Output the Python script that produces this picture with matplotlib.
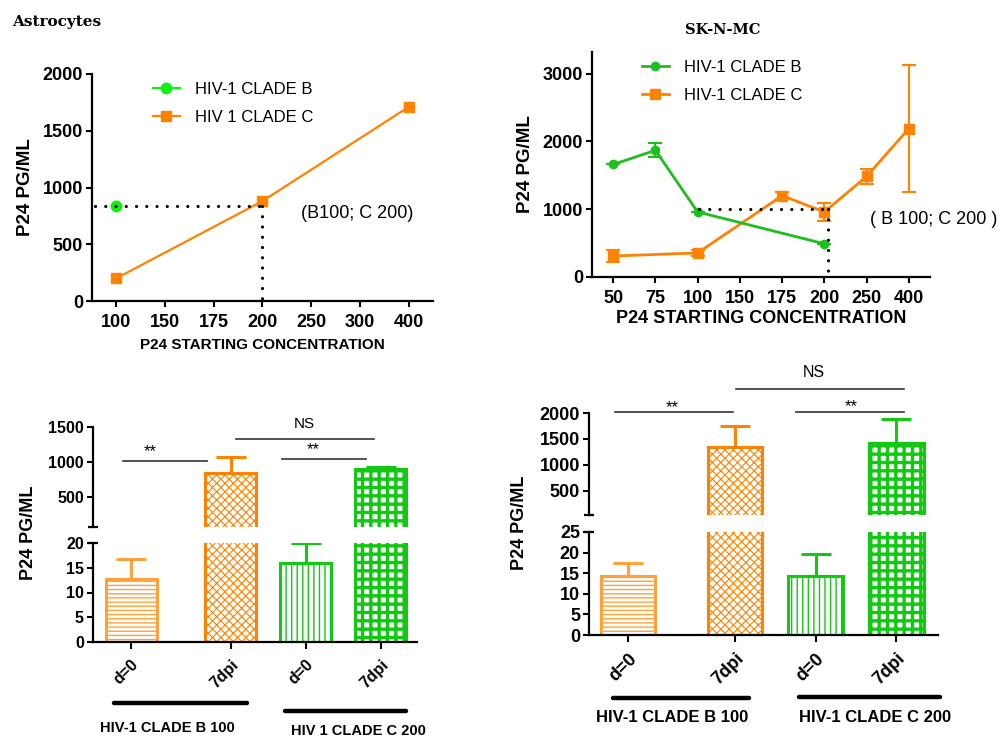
import matplotlib
matplotlib.use('Agg')
import matplotlib.pyplot as plt
from matplotlib.lines import Line2D

plt.rcParams['font.family'] = ['Liberation Sans', 'DejaVu Sans']

W, H = 1003, 737
ORANGE = '#FF8200'
LORANGE = '#FFA23C'
GREEN_A = '#14EE14'
GREEN = '#1DBF1D'
GREEN_BAR = '#12C812'

# ---- top left: astrocytes, titration
a_conc = ['100', '150', '175', '200', '250', '300', '400']
a_b_x = ['100']
a_b_y = [840]
a_c_x = ['100', '200', '400']
a_c_y = [200, 880, 1710]

# ---- top right: SK-N-MC, titration
b_conc = ['50', '75', '100', '150', '175', '200', '250', '400']
b_b_x = ['50', '75', '100', '200']
b_b_y = [1660, 1870, 960, 490]
b_b_err = [0, 100, 0, 0]
b_c_x = ['50', '100', '175', '200', '250', '400']
b_c_y = [310, 355, 1200, 960, 1485, 2190]
b_c_err = [90, 40, 50, 135, 115, 935]

# ---- bottom: p24 at d=0 and 7dpi
bar_labels = ['d=0', '7dpi', 'd=0', '7dpi']
astro_vals = [12.7, 845, 16.0, 895]
astro_err = [4.1, 220, 3.9, 25]
sk_vals = [14.4, 1350, 14.4, 1425]
sk_err = [3.1, 400, 5.2, 460]
astro_groups = ['HIV-1 CLADE B 100', 'HIV 1 CLADE C 200']
sk_groups = ['HIV-1 CLADE B 100', 'HIV-1 CLADE C 200']

bar_pos = [0, 1.33, 2.33, 3.33]
bar_edge = [LORANGE, ORANGE, GREEN_BAR, GREEN_BAR]
bar_hatch = ['----', 'xxxx', '|||', '++']
hatch_lw = [1.0, 0.8, 1.0, 2.4]


def box(l, t, r, b):
    return [l / W, 1 - b / H, (r - l) / W, (b - t) / H]


def ftext(x, y, s, **kw):
    fig.text(x / W, 1 - y / H, s, **kw)


def style_axes(ax, fs):
    for s in ['top', 'right']:
        ax.spines[s].set_visible(False)
    for s in ['left', 'bottom']:
        ax.spines[s].set_linewidth(1.6)
    ax.tick_params(width=1.5, length=4.5, labelsize=fs, pad=2)
    for lab in ax.get_xticklabels() + ax.get_yticklabels():
        lab.set_fontweight('bold')


fig = plt.figure(figsize=(W / 100, H / 100), dpi=100)

# ================= panel A
axA = fig.add_axes(box(92, 74, 433, 301))
ia = {c: i for i, c in enumerate(a_conc)}
axA.plot([ia[c] for c in a_c_x], a_c_y, color=ORANGE, lw=1.6, marker='s', ms=6.5, zorder=3)
axA.plot([ia[c] for c in a_b_x], a_b_y, color=GREEN_A, lw=1.6, marker='o', ms=7.5, zorder=3)
dots = dict(color='black', lw=2.3, linestyle=(0, (0.01, 3.2)), dash_capstyle='round', zorder=4)
axA.plot([-0.43, ia['200']], [a_b_y[0], a_b_y[0]], **dots)
axA.plot([ia['200'], ia['200']], [a_b_y[0], 0], clip_on=False, **dots)
axA.set_xlim(-0.5, 6.5)
axA.set_ylim(0, 2000)
axA.set_xticks(range(len(a_conc)), a_conc)
axA.set_yticks([0, 500, 1000, 1500, 2000])
style_axes(axA, 13)
axA.tick_params(axis='x', pad=5)
axA.set_ylabel('P24 PG/ML', fontsize=13.5, fontweight='bold', labelpad=6)
axA.set_xlabel('P24 STARTING CONCENTRATION', fontsize=11, fontweight='bold', labelpad=5)
axA.text(3.8, 775, '(B100; C 200)', fontsize=13, va='center')
hA = [Line2D([], [], color=GREEN_A, marker='o', ms=7.5, lw=1.6),
      Line2D([], [], color=ORANGE, marker='s', ms=6.5, lw=1.6)]
axA.legend(hA, ['HIV-1 CLADE B', 'HIV 1 CLADE C'], loc='upper left',
           bbox_to_anchor=(153 / W, 1 - 82 / H), bbox_transform=fig.transFigure,
           frameon=False, borderpad=0, borderaxespad=0, handlelength=1.6,
           handletextpad=0.9, labelspacing=0.78, fontsize=12)
ftext(12, 22, 'Astrocytes', fontsize=11, fontweight='bold', family='DejaVu Serif', va='center')

# ================= panel B
axB = fig.add_axes(box(592, 52, 930, 277))
ib = {c: i for i, c in enumerate(b_conc)}
axB.errorbar([ib[c] for c in b_c_x], b_c_y, yerr=b_c_err, color=ORANGE, lw=2, marker='s',
             ms=6.5, capsize=5, capthick=1.5, elinewidth=1.5, zorder=3)
axB.errorbar([ib[c] for c in b_b_x], b_b_y, yerr=b_b_err, color=GREEN, lw=2, marker='o',
             ms=6, capsize=5, capthick=1.5, elinewidth=1.5, zorder=3)
axB.plot([2.04, 5.05], [1000, 1000], **dots)
axB.plot([5.08, 5.08], [1000, 0], clip_on=False, **dots)
axB.set_xlim(-0.5, 7.5)
axB.set_ylim(0, 3320)
axB.set_xticks(range(len(b_conc)), b_conc)
axB.set_yticks([0, 1000, 2000, 3000])
style_axes(axB, 13)
axB.tick_params(axis='x', pad=5)
axB.set_ylabel('P24 PG/ML', fontsize=13.5, fontweight='bold', labelpad=6)
axB.set_xlabel('P24 STARTING CONCENTRATION', fontsize=13, fontweight='bold', labelpad=2)
axB.text(6.09, 842, '( B 100; C 200 )', fontsize=13, va='center', clip_on=False)
hB = [Line2D([], [], color=GREEN, marker='o', ms=6, lw=2),
      Line2D([], [], color=ORANGE, marker='s', ms=6.5, lw=2)]
axB.legend(hB, ['HIV-1 CLADE B', 'HIV-1 CLADE C'], loc='upper left',
           bbox_to_anchor=(642 / W, 1 - 60 / H), bbox_transform=fig.transFigure,
           frameon=False, borderpad=0, borderaxespad=0, handlelength=1.6,
           handletextpad=0.9, labelspacing=0.78, fontsize=12)
ftext(723, 30, 'SK-N-MC', fontsize=10.5, fontweight='bold', family='DejaVu Serif',
      va='center', ha='center')


# ================= bottom panels (broken y axis)
def bar_panel(top_box, bot_box, vals, errs, top_lim, top_ticks, bot_lim, bot_ticks,
              xlim, fs, cap):
    top = fig.add_axes(top_box)
    bot = fig.add_axes(bot_box)
    for ax, lo in ((top, top_lim[0]), (bot, bot_lim[0])):
        for p, v, e, ec, hz, hl in zip(bar_pos, vals, errs, bar_edge, bar_hatch, hatch_lw):
            if v <= lo:
                continue
            ax.errorbar(p, v, yerr=[[0], [e]], color=ec, capsize=cap, capthick=2.2,
                        elinewidth=2.2, zorder=1)
            b = ax.bar(p, v, width=0.68, facecolor='white', edgecolor=ec, hatch=hz,
                       linewidth=2.2, zorder=2)
            for patch in b:
                if hasattr(patch, 'set_hatch_linewidth'):
                    patch.set_hatch_linewidth(hl)
        ax.set_xlim(*xlim)
    top.set_ylim(*top_lim)
    top.set_yticks(top_ticks)
    bot.set_ylim(*bot_lim)
    bot.set_yticks(bot_ticks)
    bot.set_xticks(bar_pos, bar_labels)
    style_axes(top, fs)
    style_axes(bot, fs)
    top.spines['bottom'].set_visible(False)
    top.tick_params(axis='x', bottom=False, labelbottom=False)
    bot.tick_params(axis='x', length=5, pad=6)
    for lab in bot.get_xticklabels():
        lab.set_rotation(45)
        lab.set_ha('right')
        lab.set_rotation_mode('anchor')
    top.plot([0], [0], marker='_', ms=7, mew=1.6, color='black', transform=top.transAxes, clip_on=False)
    bot.plot([0], [1], marker='_', ms=7, mew=1.6, color='black', transform=bot.transAxes, clip_on=False)
    return top, bot


# astrocytes
cT, cB = bar_panel(box(93, 427, 417, 527), box(93, 543, 417, 642), astro_vals, astro_err,
                   (65, 1500), [500, 1000, 1500], (0, 20), [0, 5, 10, 15, 20],
                   (-0.507, 3.81), 11.5, 11)
sig = dict(color='#333333', lw=1.2, clip_on=False)
cT.plot([-0.11, 1.01], [1015, 1015], **sig)
cT.plot([2.01, 3.13], [1044, 1044], **sig)
cT.plot([1.4, 3.24], [1331, 1331], **sig)
cT.text(0.25, 1150, '**', fontsize=12, ha='center', va='center')
cT.text(2.43, 1180, '**', fontsize=12, ha='center', va='center')
cT.text(2.31, 1548, 'NS', fontsize=11, ha='center', va='center')
grp = dict(color='black', lw=3.2, solid_capstyle='round', clip_on=False)
cB.plot([-0.23, 1.55], [-12.3, -12.3], **grp)
cB.plot([2.05, 3.67], [-13.9, -13.9], **grp)
cB.text(0.48, -17.4, astro_groups[0], fontsize=10.5, fontweight='bold', ha='center', va='center')
cB.text(3.03, -18.0, astro_groups[1], fontsize=10.5, fontweight='bold', ha='center', va='center')
ftext(29, 533, 'P24 PG/ML', fontsize=13, fontweight='bold', rotation=90, ha='center', va='center')

# SK-N-MC
dT, dB = bar_panel(box(589, 413, 938, 515), box(589, 532, 938, 635), sk_vals, sk_err,
                   (30, 2000), [500, 1000, 1500, 2000], (0, 25), [0, 5, 10, 15, 20, 25],
                   (-0.484, 3.85), 13, 10.5)
dT.plot([-0.16, 1.30], [2010, 2010], **sig)
dT.plot([2.09, 3.43], [2025, 2025], **sig)
dT.plot([1.34, 3.43], [2471, 2471], **sig)
dT.text(0.55, 2100, '**', fontsize=12, ha='center', va='center')
dT.text(2.77, 2115, '**', fontsize=12, ha='center', va='center')
dT.text(2.31, 2781, 'NS', fontsize=11.5, ha='center', va='center')
dB.plot([-0.19, 1.50], [-15.3, -15.3], **grp)
dB.plot([2.12, 3.88], [-15.1, -15.1], **grp)
dB.text(0.55, -20.0, sk_groups[0], fontsize=12, fontweight='bold', ha='center', va='center')
dB.text(3.07, -20.0, sk_groups[1], fontsize=12, fontweight='bold', ha='center', va='center')
ftext(519, 523, 'P24 PG/ML', fontsize=13, fontweight='bold', rotation=90, ha='center', va='center')

fig.savefig('out.png', dpi=100)
